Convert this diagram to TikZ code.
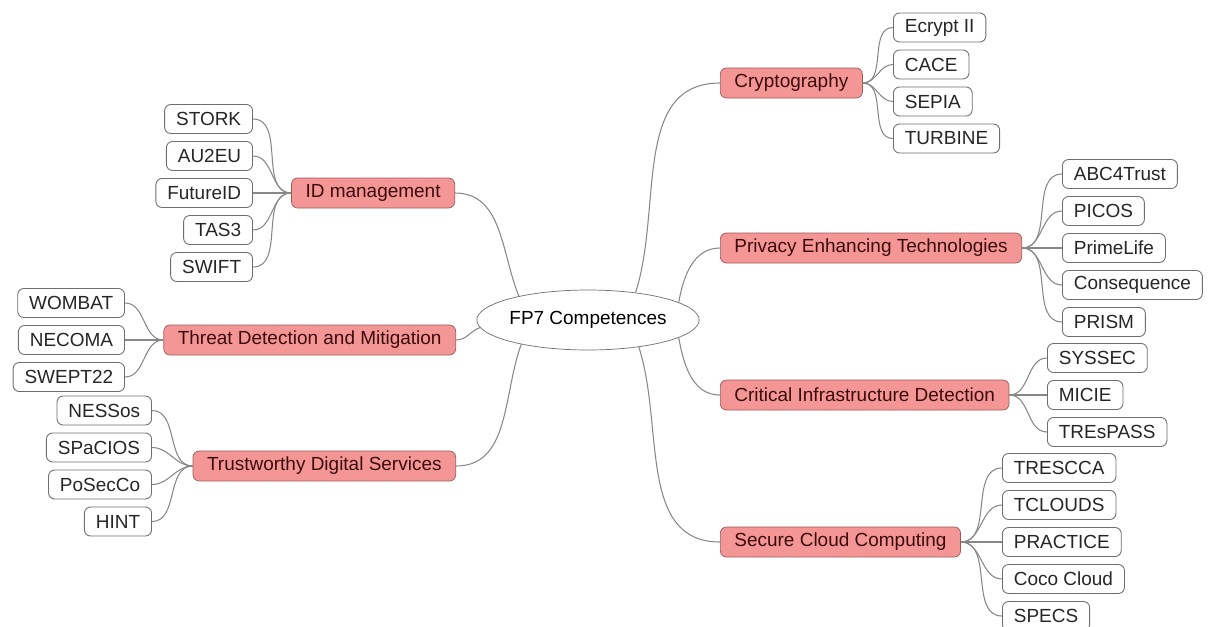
\documentclass[tikz,border=0pt]{standalone}
\usepackage{fontspec}
\setmainfont{Liberation Sans}
\definecolor{branchfill}{RGB}{244,150,150}
\definecolor{branchline}{RGB}{160,88,88}
\definecolor{branchtext}{RGB}{60,12,12}
\definecolor{leafline}{RGB}{110,110,110}
\definecolor{linkgray}{RGB}{135,135,135}
\usetikzlibrary{shapes.geometric}

\begin{document}
\begin{tikzpicture}[
    every node/.style={font=\fontsize{10.8}{13}\selectfont},
    hub/.style={draw=leafline, ellipse, fill=white, minimum width=4cm, minimum height=1.2cm, inner sep=0pt},
    branch/.style={draw=branchline, rounded corners=3.5pt, fill=branchfill, text=branchtext, minimum height=0.6cm, inner xsep=8pt, inner ysep=0pt},
    leaf/.style={draw=leafline, line width=0.5pt, rounded corners=3.5pt, fill=white, text=black!85, minimum height=0.58cm, inner xsep=6.5pt, inner ysep=0pt},
    link/.style={draw=linkgray, line width=0.6pt}
]
    \useasboundingbox (-11.76,-6.12) rectangle (12.5,6.4);

    % Central topic
    \node[hub] (fp7) at (0,0) {FP7 Competences};

    % Left branches
    \node[branch, anchor=east] (idm) at (-2.66,2.54) {ID management};
    \node[branch, anchor=east] (threat) at (-2.64,-0.40) {Threat Detection and Mitigation};
    \node[branch, anchor=east] (trust) at (-2.64,-2.92) {Trustworthy Digital Services};

    % Right branches
    \node[branch, anchor=west] (crypto) at (2.64,4.74) {Cryptography};
    \node[branch, anchor=west] (pet) at (2.64,1.44) {Privacy Enhancing Technologies};
    \node[branch, anchor=west] (cid) at (2.64,-1.50) {Critical Infrastructure Detection};
    \node[branch, anchor=west] (scc) at (2.64,-4.44) {Secure Cloud Computing};

    % Hub to branches
    \draw[link] (fp7.161) to[out=112, in=0] (idm.east);
    \draw[link] (fp7.184) to[out=200, in=0] (threat.east);
    \draw[link] (fp7.200) to[out=250, in=0] (trust.east);
    \draw[link] (fp7.30) to[out=72, in=180] (crypto.west);
    \draw[link] (fp7.11) to[out=80, in=180] (pet.west);
    \draw[link] (fp7.349) to[out=-80, in=180] (cid.west);
    \draw[link] (fp7.332) to[out=-72, in=180] (scc.west);

    % ID management projects
    \node[leaf, anchor=east] (stork) at (-6.70,4.02) {STORK};
    \node[leaf, anchor=east] (au2eu) at (-6.70,3.28) {AU2EU};
    \node[leaf, anchor=east] (futureid) at (-6.70,2.54) {FutureID};
    \node[leaf, anchor=east] (tas3) at (-6.70,1.80) {TAS3};
    \node[leaf, anchor=east] (swift) at (-6.70,1.06) {SWIFT};
    \draw[link] (stork.east) to[out=0, in=180] (idm.west);
    \draw[link] (au2eu.east) to[out=0, in=180] (idm.west);
    \draw[link] (futureid.east) to[out=0, in=180] (idm.west);
    \draw[link] (tas3.east) to[out=0, in=180] (idm.west);
    \draw[link] (swift.east) to[out=0, in=180] (idm.west);

    % Threat detection projects
    \node[leaf, anchor=east] (wombat) at (-9.26,0.34) {WOMBAT};
    \node[leaf, anchor=east] (necoma) at (-9.26,-0.40) {NECOMA};
    \node[leaf, anchor=east] (swept) at (-9.26,-1.14) {SWEPT22};
    \draw[link] (wombat.east) to[out=0, in=180] (threat.west);
    \draw[link] (necoma.east) to[out=0, in=180] (threat.west);
    \draw[link] (swept.east) to[out=0, in=180] (threat.west);

    % Trustworthy services projects
    \node[leaf, anchor=east] (nessos) at (-8.72,-1.81) {NESSos};
    \node[leaf, anchor=east] (spacios) at (-8.72,-2.55) {SPaCIOS};
    \node[leaf, anchor=east] (posecco) at (-8.72,-3.29) {PoSecCo};
    \node[leaf, anchor=east] (hint) at (-8.72,-4.03) {HINT};
    \draw[link] (nessos.east) to[out=0, in=180] (trust.west);
    \draw[link] (spacios.east) to[out=0, in=180] (trust.west);
    \draw[link] (posecco.east) to[out=0, in=180] (trust.west);
    \draw[link] (hint.east) to[out=0, in=180] (trust.west);

    % Cryptography projects
    \node[leaf, anchor=west] (ecrypt) at (6.10,5.85) {Ecrypt II};
    \node[leaf, anchor=west] (cace) at (6.10,5.11) {CACE};
    \node[leaf, anchor=west] (sepia) at (6.10,4.37) {SEPIA};
    \node[leaf, anchor=west] (turbine) at (6.10,3.63) {TURBINE};
    \draw[link] (crypto.east) to[out=0, in=180] (ecrypt.west);
    \draw[link] (crypto.east) to[out=0, in=180] (cace.west);
    \draw[link] (crypto.east) to[out=0, in=180] (sepia.west);
    \draw[link] (crypto.east) to[out=0, in=180] (turbine.west);

    % Privacy projects
    \node[leaf, anchor=west] (abc4trust) at (9.48,2.92) {ABC4Trust};
    \node[leaf, anchor=west] (picos) at (9.48,2.18) {PICOS};
    \node[leaf, anchor=west] (primelife) at (9.48,1.44) {PrimeLife};
    \node[leaf, anchor=west] (consequence) at (9.48,0.70) {Consequence};
    \node[leaf, anchor=west] (prism) at (9.48,-0.04) {PRISM};
    \draw[link] (pet.east) to[out=0, in=180] (abc4trust.west);
    \draw[link] (pet.east) to[out=0, in=180] (picos.west);
    \draw[link] (pet.east) to[out=0, in=180] (primelife.west);
    \draw[link] (pet.east) to[out=0, in=180] (consequence.west);
    \draw[link] (pet.east) to[out=0, in=180] (prism.west);

    % Critical infrastructure projects
    \node[leaf, anchor=west] (syssec) at (9.18,-0.76) {SYSSEC};
    \node[leaf, anchor=west] (micie) at (9.18,-1.50) {MICIE};
    \node[leaf, anchor=west] (trespass) at (9.18,-2.24) {TREsPASS};
    \draw[link] (cid.east) to[out=0, in=180] (syssec.west);
    \draw[link] (cid.east) to[out=0, in=180] (micie.west);
    \draw[link] (cid.east) to[out=0, in=180] (trespass.west);

    % Cloud computing projects
    \node[leaf, anchor=west] (tresca) at (8.28,-2.96) {TRESCCA};
    \node[leaf, anchor=west] (tclouds) at (8.28,-3.70) {TCLOUDS};
    \node[leaf, anchor=west] (practice) at (8.28,-4.44) {PRACTICE};
    \node[leaf, anchor=west] (coco) at (8.28,-5.18) {Coco Cloud};
    \node[leaf, anchor=west] (specs) at (8.28,-5.92) {SPECS};
    \draw[link] (scc.east) to[out=0, in=180] (tresca.west);
    \draw[link] (scc.east) to[out=0, in=180] (tclouds.west);
    \draw[link] (scc.east) to[out=0, in=180] (practice.west);
    \draw[link] (scc.east) to[out=0, in=180] (coco.west);
    \draw[link] (scc.east) to[out=0, in=180] (specs.west);
\end{tikzpicture}
\end{document}
